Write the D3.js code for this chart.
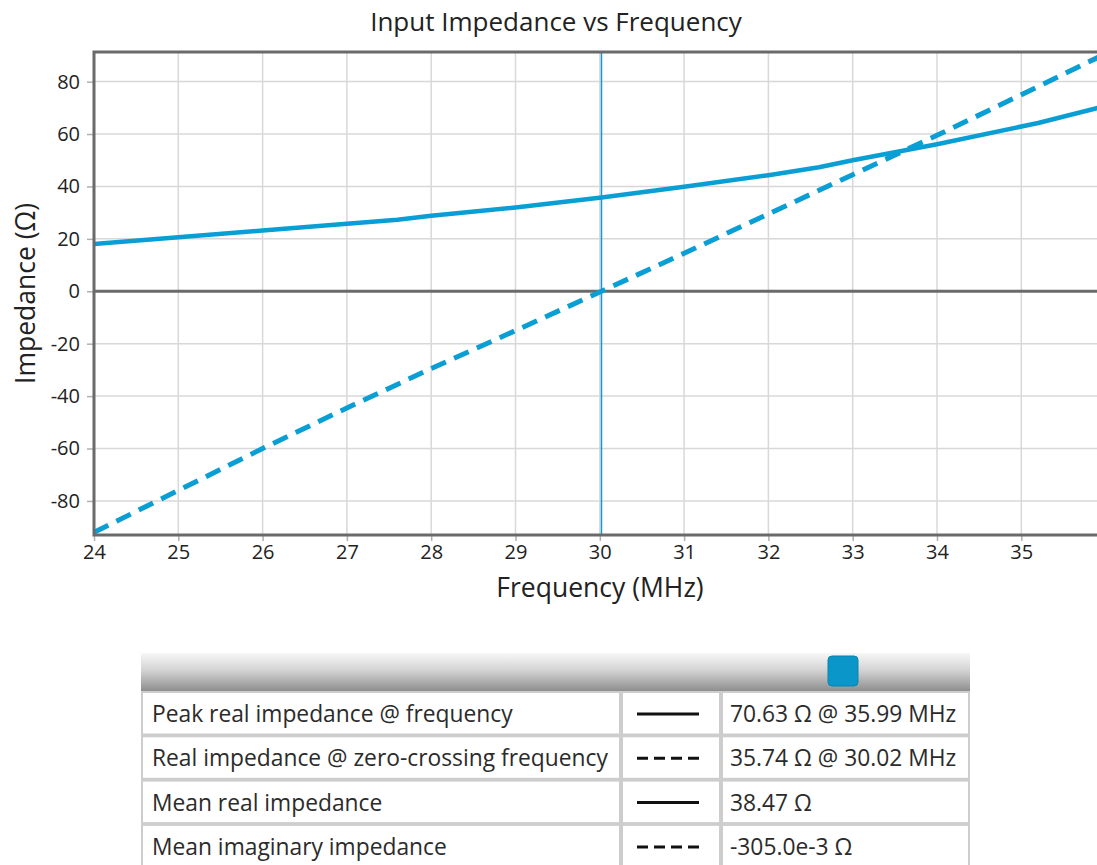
<!DOCTYPE html>
<html>
<head>
<meta charset="utf-8">
<script src="https://cdn.jsdelivr.net/npm/d3@7"></script>
<style>
  html, body { margin: 0; padding: 0; background: #fff; }
  svg { display: block; font-family: "Open Sans", "Noto Sans", sans-serif; }
</style>
</head>
<body>
<svg id="chart" width="1097" height="865"></svg>
<script>
// Real part of input impedance (ohms) against frequency (MHz)
const realFreq = [24.0, 25.0, 26.0, 27.0, 27.6, 28.0, 29.0, 30.02, 31.0, 32.0, 32.6, 33.0, 34.0, 35.2, 35.99];
const realOhms = [18.0, 20.6, 23.2, 25.8, 27.3, 28.8, 32.0, 35.74, 39.9, 44.3, 47.3, 50.0, 56.1, 64.2, 70.63];

// Imaginary part of input impedance (ohms) against frequency (MHz)
const imagFreq = [24.0, 25.0, 26.0, 27.0, 28.0, 29.0, 30.02, 31.0, 32.0, 33.0, 34.0, 35.0, 35.99];
const imagOhms = [-92.0, -76.0, -60.0, -44.5, -29.5, -15.0, 0.0, 14.5, 29.5, 44.5, 59.5, 75.0, 90.5];

// Axis ticks
const freqTicks = [24, 25, 26, 27, 28, 29, 30, 31, 32, 33, 34, 35];
const ohmTicks = [-80, -60, -40, -20, 0, 20, 40, 60, 80];

// Zero-crossing frequency of the reactance
const zeroCrossFreq = 30.02;

// Summary table
const summaryLabels = [
  "Peak real impedance @ frequency",
  "Real impedance @ zero-crossing frequency",
  "Mean real impedance",
  "Mean imaginary impedance"
];
const summaryStyles = ["solid", "dashed", "solid", "dashed"];
const summaryValues = [
  "70.63 \u03A9 @ 35.99 MHz",
  "35.74 \u03A9 @ 30.02 MHz",
  "38.47 \u03A9",
  "-305.0e-3 \u03A9"
];

const fontStack = '"Open Sans", "Noto Sans", sans-serif';
const lineColor = "#0a9fd4";
const svg = d3.select("#chart");

const plot = { left: 94, top: 52, right: 1105.6, bottom: 535 };
const x = d3.scaleLinear().domain([24, 36]).range([plot.left, plot.right]);
const y = d3.scaleLinear().domain([-93, 91.3]).range([plot.bottom, plot.top]);

svg.append("defs").append("clipPath").attr("id", "plotClip")
  .append("rect")
  .attr("x", plot.left).attr("y", plot.top)
  .attr("width", plot.right - plot.left).attr("height", plot.bottom - plot.top);

// Grid
const grid = svg.append("g");
grid.selectAll("line.gx").data(freqTicks).join("line")
  .attr("x1", d => x(d)).attr("x2", d => x(d))
  .attr("y1", plot.top).attr("y2", plot.bottom)
  .attr("stroke", "#d8d8d8").attr("stroke-width", 1.5);
grid.selectAll("line.gy").data(ohmTicks.filter(d => d !== 0)).join("line")
  .attr("x1", plot.left).attr("x2", plot.right)
  .attr("y1", d => y(d)).attr("y2", d => y(d))
  .attr("stroke", "#d8d8d8").attr("stroke-width", 1.5);

// Zero reference line
svg.append("line")
  .attr("x1", plot.left).attr("x2", plot.right)
  .attr("y1", y(0)).attr("y2", y(0))
  .attr("stroke", "#6a6a6a").attr("stroke-width", 3);

// Axes
const xAxis = svg.append("g")
  .attr("transform", `translate(0,${plot.bottom})`)
  .call(d3.axisBottom(x).tickValues(freqTicks).tickFormat(d => String(d)).tickSize(6).tickPadding(4));
const yAxis = svg.append("g")
  .attr("transform", `translate(${plot.left},0)`)
  .call(d3.axisLeft(y).tickValues(ohmTicks).tickFormat(d => String(d)).tickSize(7).tickPadding(7));
[xAxis, yAxis].forEach(a => {
  a.attr("font-family", fontStack).attr("font-size", 20);
  a.select(".domain").remove();
  a.selectAll(".tick line").attr("stroke", "#b0b0b0").attr("stroke-width", 1.5);
  a.selectAll(".tick text").attr("fill", "#222");
});

// Series
const lines = svg.append("g").attr("clip-path", "url(#plotClip)");
const realPts = realFreq.map((f, i) => [f, realOhms[i]]);
const imagPts = imagFreq.map((f, i) => [f, imagOhms[i]]);
const lineGen = d3.line().x(d => x(d[0])).y(d => y(d[1]));

lines.append("path").datum(imagPts)
  .attr("d", lineGen).attr("fill", "none")
  .attr("stroke", lineColor).attr("stroke-width", 5)
  .attr("stroke-dasharray", "16,9");
lines.append("path").datum(realPts)
  .attr("d", lineGen).attr("fill", "none")
  .attr("stroke", lineColor).attr("stroke-width", 4.5)
  .attr("stroke-linejoin", "round");

// Zero-crossing marker
svg.append("line")
  .attr("x1", x(zeroCrossFreq)).attr("x2", x(zeroCrossFreq))
  .attr("y1", plot.top).attr("y2", plot.bottom)
  .attr("stroke", "#1598d0").attr("stroke-width", 1.5);

// Plot frame
svg.append("rect")
  .attr("x", plot.left).attr("y", plot.top)
  .attr("width", plot.right - plot.left).attr("height", plot.bottom - plot.top)
  .attr("fill", "none").attr("stroke", "#6a6a6a").attr("stroke-width", 3);

// Titles
svg.append("text").attr("x", 556).attr("y", 31)
  .attr("text-anchor", "middle").attr("fill", "#222")
  .style("font-size", "26px").text("Input Impedance vs Frequency");
svg.append("text").attr("x", 600).attr("y", 597)
  .attr("text-anchor", "middle").attr("fill", "#222")
  .style("font-size", "26.5px").text("Frequency (MHz)");
svg.append("text")
  .attr("transform", `translate(35,${(plot.top + plot.bottom) / 2}) rotate(-90)`)
  .attr("text-anchor", "middle").attr("fill", "#222")
  .style("font-size", "26.5px").text("Impedance (\u03A9)");

// Summary table
const table = { left: 141, right: 970, headTop: 653, headBottom: 691 };
const grad = svg.append("defs").append("linearGradient")
  .attr("id", "headGrad").attr("x1", 0).attr("x2", 0).attr("y1", 0).attr("y2", 1);
grad.append("stop").attr("offset", "0%").attr("stop-color", "#f7f7f7");
grad.append("stop").attr("offset", "45%").attr("stop-color", "#d4d4d4");
grad.append("stop").attr("offset", "100%").attr("stop-color", "#8e8e8e");
svg.append("rect")
  .attr("x", table.left).attr("y", table.headTop)
  .attr("width", table.right - table.left).attr("height", table.headBottom - table.headTop)
  .attr("fill", "url(#headGrad)");
svg.append("rect")
  .attr("x", 828).attr("y", 656).attr("width", 30).attr("height", 30)
  .attr("rx", 4).attr("fill", "#0a96c8").attr("stroke", "#0b84b0").attr("stroke-width", 1);

svg.append("rect")
  .attr("x", table.left).attr("y", table.headBottom)
  .attr("width", table.right - table.left).attr("height", 865 - table.headBottom)
  .attr("fill", "#cdcdcd");

const cols = [[143, 619], [623, 719], [723, 968]];
const rowTop = d => 693 + d * 44.3;
const rowH = 40.5;
const rows = svg.append("g").selectAll("g").data(summaryLabels).join("g");
cols.forEach(([c0, c1]) => {
  rows.append("rect")
    .attr("x", c0).attr("y", (d, i) => rowTop(i))
    .attr("width", c1 - c0).attr("height", rowH)
    .attr("fill", "#fff");
});
rows.append("text")
  .attr("x", 152).attr("y", (d, i) => rowTop(i) + 29)
  .attr("fill", "#2b2b2b").style("font-size", "22.8px")
  .text(d => d);
rows.append("line")
  .attr("x1", 637).attr("x2", 699)
  .attr("y1", (d, i) => rowTop(i) + 21).attr("y2", (d, i) => rowTop(i) + 21)
  .attr("stroke", "#111").attr("stroke-width", 3)
  .attr("stroke-dasharray", (d, i) => summaryStyles[i] === "dashed" ? "11,6" : null);
rows.append("text")
  .attr("x", 730).attr("y", (d, i) => rowTop(i) + 29)
  .attr("fill", "#2b2b2b").style("font-size", "22.8px")
  .text((d, i) => summaryValues[i]);
</script>
</body>
</html>
